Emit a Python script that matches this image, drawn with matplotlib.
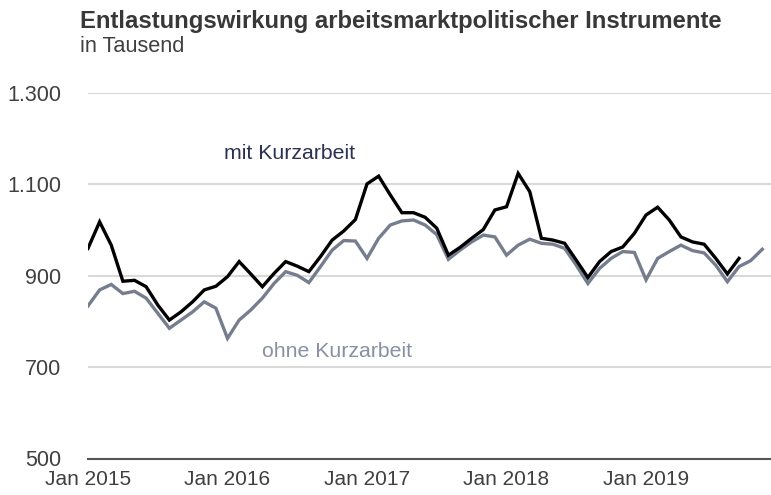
import matplotlib
matplotlib.use("Agg")
import matplotlib.pyplot as plt

plt.rcParams['font.family'] = ['Liberation Sans', 'DejaVu Sans']

# Monthly values, Jan 2015 onwards (in thousand)
mit_kurzarbeit = [960, 1018, 967, 888, 890, 876, 836, 803, 821, 843, 869, 877,
                  898, 931, 904, 876, 905, 931, 921, 909, 942, 978, 998, 1023,
                  1101, 1118, 1077, 1038, 1038, 1028, 1004, 945, 962, 982, 1001, 1044,
                  1051, 1124, 1084, 982, 978, 971, 934, 896, 931, 953, 963, 993,
                  1033, 1050, 1022, 985, 974, 969, 938, 904, 938]
ohne_kurzarbeit = [834, 869, 881, 861, 866, 851, 818, 785, 803, 821, 843, 829,
                   763, 803, 825, 851, 883, 909, 901, 885, 920, 956, 977, 976,
                   938, 982, 1011, 1020, 1022, 1011, 990, 936, 956, 974, 989, 985,
                   945, 967, 980, 971, 969, 960, 923, 883, 916, 938, 953, 951,
                   891, 938, 953, 967, 955, 950, 923, 887, 920, 933, 958]
x_ticks = [0, 12, 24, 36, 48]
x_labels = ["Jan 2015", "Jan 2016", "Jan 2017", "Jan 2018", "Jan 2019"]
y_ticks = [500, 700, 900, 1100, 1300]
y_labels = ["500", "700", "900", "1.100", "1.300"]

fig = plt.figure(figsize=(7.71, 4.95), dpi=100)
ax = fig.add_axes([88/771, 1 - 458.5/495, 1 - 88/771, (458.5 - 93)/495])

ax.plot(range(len(ohne_kurzarbeit)), ohne_kurzarbeit, color='#767d8e', lw=2.4,
        solid_joinstyle='miter', zorder=3)
ax.plot(range(len(mit_kurzarbeit)), mit_kurzarbeit, color='#000000', lw=2.4,
        solid_joinstyle='miter', zorder=4)

ax.set_xlim(0, 58.75)
ax.set_ylim(500, 1300)
ax.set_yticks(y_ticks)
ax.set_yticklabels(y_labels)
ax.set_xticks(x_ticks)
ax.set_xticklabels(x_labels)
ax.tick_params(axis='both', length=0, labelsize=15, colors='#404040')
ax.tick_params(axis='y', pad=19, labelsize=15.5)
ax.tick_params(axis='x', pad=8)

ax.grid(axis='y', color='#d9d9d9', lw=1.5, zorder=0)
ax.set_axisbelow(True)
for s in ['top', 'right', 'left']:
    ax.spines[s].set_visible(False)
ax.spines['bottom'].set_color('#555555')
ax.spines['bottom'].set_linewidth(1.5)
ax.spines['bottom'].set_zorder(5)

ax.text(11.7, 1167, "mit Kurzarbeit", fontsize=15.3, color='#2c3150', ha='left', va='center')
ax.text(14.95, 735, "ohne Kurzarbeit", fontsize=15.3, color='#8a8fa2', ha='left', va='center')

fig.text(80/771, 1 - 28/495, "Entlastungswirkung arbeitsmarktpolitischer Instrumente",
         fontsize=17.2, fontweight='bold', color='#383838', ha='left', va='baseline')
fig.text(80/771, 1 - 52/495, "in Tausend", fontsize=15.7, color='#404040',
         ha='left', va='baseline')

fig.savefig("out.png", dpi=100)
